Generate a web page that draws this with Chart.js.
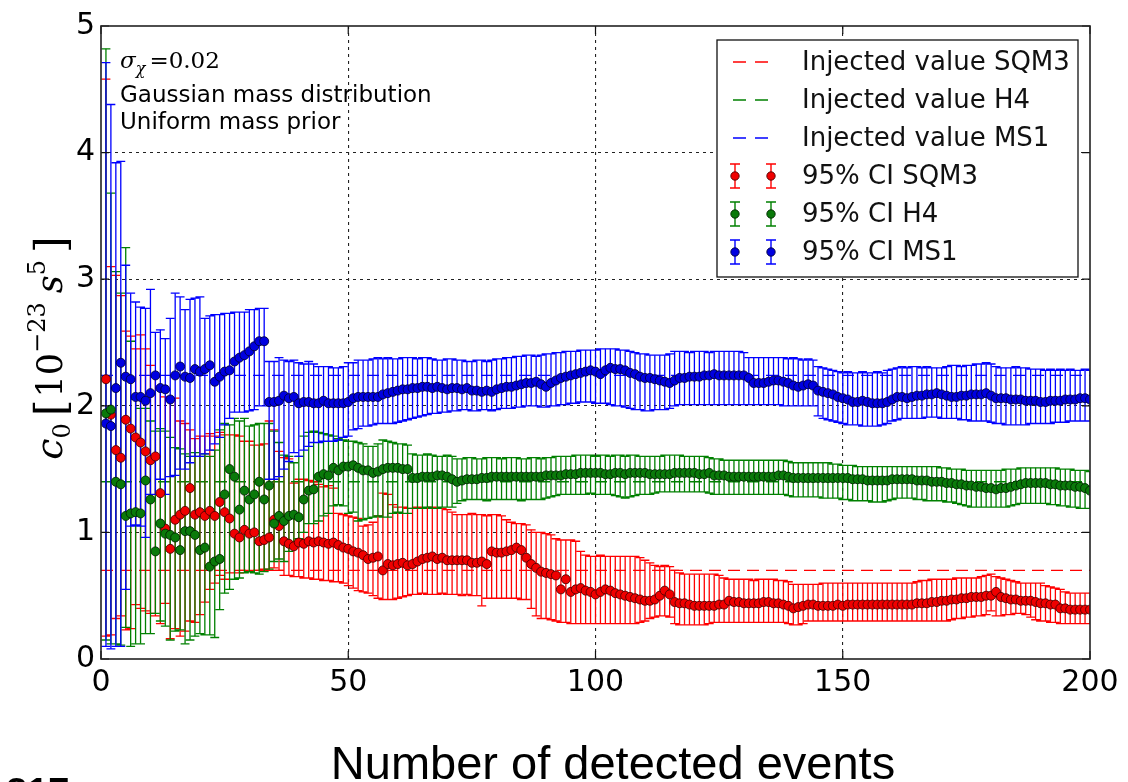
<!DOCTYPE html>
<html><head><meta charset="utf-8">
<script src="https://cdn.jsdelivr.net/npm/chart.js@4.4.1/dist/chart.umd.min.js"></script>
<style>html,body{margin:0;padding:0;background:#fff;}#wrap{width:1128px;height:782px;position:relative;}</style>
</head><body><div id="wrap"><canvas id="c" width="1128" height="782"></canvas></div>
<script>
// ---- data (x = number of detected events) ----
const events = Array.from({length: 200}, (_, i) => i + 1);
const xTicks = [0, 50, 100, 150, 200];
const yTicks = [0, 1, 2, 3, 4, 5];
const injectedSQM3 = 0.70, injectedH4 = 1.40, injectedMS1 = 2.24;

const ms1Mid = [
1.86,1.84,2.14,2.34,2.23,2.21,2.07,2.07,2.04,2.10,
2.24,2.14,2.13,2.05,2.24,2.31,2.23,2.22,2.29,2.27,
2.29,2.32,2.19,2.23,2.27,2.28,2.35,2.38,2.40,2.43,
2.47,2.51,2.51,2.03,2.03,2.04,2.08,2.06,2.07,2.02,
2.03,2.03,2.02,2.02,2.04,2.02,2.02,2.02,2.02,2.03,
2.06,2.07,2.07,2.07,2.07,2.07,2.09,2.10,2.11,2.12,
2.13,2.13,2.14,2.14,2.15,2.15,2.14,2.15,2.14,2.13,
2.14,2.14,2.13,2.14,2.12,2.12,2.11,2.12,2.11,2.13,
2.14,2.15,2.15,2.16,2.17,2.18,2.18,2.19,2.17,2.15,
2.18,2.20,2.22,2.23,2.24,2.25,2.26,2.27,2.28,2.27,
2.25,2.28,2.30,2.29,2.29,2.28,2.26,2.25,2.23,2.22,
2.22,2.21,2.20,2.19,2.18,2.20,2.22,2.22,2.23,2.23,
2.23,2.24,2.24,2.25,2.24,2.24,2.24,2.24,2.24,2.24,
2.22,2.18,2.18,2.18,2.19,2.20,2.20,2.19,2.18,2.16,
2.15,2.16,2.17,2.16,2.12,2.11,2.10,2.09,2.07,2.06,
2.05,2.03,2.03,2.04,2.03,2.02,2.02,2.02,2.03,2.05,
2.07,2.07,2.06,2.07,2.08,2.08,2.09,2.09,2.10,2.09,
2.08,2.07,2.07,2.08,2.08,2.09,2.09,2.09,2.10,2.08,
2.06,2.06,2.06,2.05,2.05,2.05,2.04,2.04,2.04,2.03,
2.03,2.04,2.04,2.04,2.05,2.05,2.05,2.06,2.06,2.05];
const ms1Hi = [
4.71,4.38,3.92,3.93,3.11,2.89,2.82,2.78,2.77,2.92,
2.58,2.60,2.53,2.69,2.89,2.86,2.76,2.84,2.85,2.86,
2.69,2.71,2.72,2.72,2.73,2.73,2.74,2.74,2.74,2.76,
2.76,2.77,2.77,2.35,2.35,2.38,2.36,2.35,2.36,2.34,
2.33,2.35,2.33,2.31,2.31,2.31,2.30,2.30,2.31,2.34,
2.34,2.36,2.36,2.36,2.37,2.38,2.37,2.38,2.37,2.37,
2.38,2.38,2.38,2.37,2.38,2.38,2.37,2.36,2.36,2.37,
2.37,2.36,2.36,2.35,2.35,2.36,2.36,2.35,2.36,2.37,
2.37,2.38,2.38,2.39,2.39,2.40,2.40,2.39,2.40,2.41,
2.41,2.42,2.42,2.43,2.43,2.43,2.44,2.44,2.44,2.44,
2.45,2.45,2.45,2.45,2.44,2.44,2.43,2.42,2.41,2.41,
2.40,2.40,2.40,2.40,2.41,2.43,2.43,2.43,2.42,2.43,
2.43,2.43,2.42,2.43,2.43,2.43,2.43,2.43,2.43,2.42,
2.38,2.38,2.38,2.38,2.38,2.38,2.38,2.38,2.37,2.38,
2.37,2.36,2.37,2.36,2.31,2.30,2.29,2.28,2.27,2.26,
2.27,2.26,2.26,2.27,2.26,2.26,2.27,2.26,2.28,2.29,
2.30,2.31,2.30,2.31,2.31,2.30,2.31,2.30,2.30,2.30,
2.31,2.32,2.32,2.31,2.32,2.32,2.33,2.33,2.34,2.33,
2.31,2.30,2.30,2.30,2.31,2.30,2.30,2.29,2.29,2.29,
2.28,2.29,2.28,2.29,2.28,2.29,2.28,2.28,2.29,2.28];
const ms1Lo = [
0.10,0.08,0.10,0.10,0.55,1.05,1.06,1.05,0.96,1.30,
1.30,1.42,1.30,1.44,1.45,1.50,1.50,1.55,1.60,1.60,
1.62,1.65,1.70,1.75,1.85,1.90,1.95,1.95,1.95,1.96,
1.97,2.00,2.00,1.42,1.42,1.44,1.50,1.56,1.63,1.60,
1.65,1.68,1.71,1.71,1.72,1.72,1.72,1.73,1.75,1.76,
1.81,1.82,1.84,1.84,1.85,1.86,1.86,1.86,1.86,1.87,
1.88,1.89,1.90,1.91,1.92,1.93,1.94,1.94,1.95,1.95,
1.96,1.96,1.97,1.97,1.96,1.96,1.97,1.97,1.96,1.97,
1.98,1.98,1.98,1.99,1.99,2.00,2.00,2.00,1.99,1.99,
2.00,2.00,2.01,2.01,2.02,2.02,2.03,2.03,2.03,2.02,
2.02,2.02,2.01,2.00,2.00,1.99,1.98,1.97,1.97,1.96,
1.96,1.97,1.97,1.97,1.98,2.00,2.01,2.01,2.01,2.01,
2.01,2.01,2.01,2.01,2.01,2.01,2.01,2.01,2.01,2.01,
2.01,2.01,2.01,2.01,2.01,2.01,2.01,2.00,2.00,2.00,
2.00,2.00,2.00,2.00,1.92,1.90,1.89,1.88,1.87,1.86,
1.85,1.85,1.85,1.84,1.84,1.84,1.84,1.85,1.86,1.88,
1.89,1.90,1.90,1.90,1.90,1.90,1.91,1.91,1.91,1.90,
1.90,1.90,1.90,1.89,1.89,1.88,1.88,1.88,1.88,1.87,
1.86,1.86,1.85,1.85,1.85,1.85,1.85,1.86,1.86,1.86,
1.86,1.86,1.87,1.87,1.87,1.88,1.88,1.88,1.88,1.88];

const h4Mid = [
1.94,1.97,1.40,1.38,1.13,1.15,1.16,1.15,1.41,1.26,
0.85,1.07,0.99,0.98,0.96,0.86,1.01,1.01,0.98,0.86,
0.88,0.73,0.77,0.79,1.30,1.50,1.44,1.18,1.33,1.26,
1.30,1.40,1.26,1.37,1.07,1.13,1.09,1.13,1.14,1.12,
1.26,1.33,1.34,1.44,1.46,1.45,1.51,1.49,1.52,1.52,
1.53,1.51,1.49,1.49,1.47,1.48,1.50,1.51,1.51,1.51,
1.50,1.50,1.43,1.43,1.44,1.44,1.44,1.45,1.45,1.44,
1.42,1.40,1.41,1.42,1.42,1.42,1.43,1.43,1.44,1.44,
1.44,1.44,1.44,1.44,1.44,1.44,1.44,1.44,1.44,1.45,
1.45,1.45,1.45,1.46,1.46,1.46,1.47,1.47,1.47,1.47,
1.47,1.46,1.46,1.47,1.47,1.46,1.47,1.47,1.47,1.47,
1.46,1.46,1.46,1.46,1.46,1.47,1.47,1.47,1.47,1.47,
1.46,1.46,1.47,1.45,1.45,1.45,1.44,1.44,1.44,1.44,
1.44,1.44,1.44,1.44,1.44,1.44,1.45,1.45,1.44,1.43,
1.43,1.43,1.43,1.43,1.43,1.43,1.43,1.43,1.43,1.43,
1.43,1.42,1.42,1.42,1.41,1.41,1.41,1.41,1.41,1.42,
1.42,1.42,1.42,1.42,1.41,1.41,1.41,1.40,1.40,1.40,
1.39,1.39,1.38,1.38,1.37,1.37,1.36,1.36,1.35,1.35,
1.34,1.35,1.35,1.36,1.37,1.38,1.39,1.39,1.39,1.39,
1.39,1.38,1.38,1.37,1.37,1.37,1.36,1.36,1.35,1.33];
const h4Hi = [
4.82,3.68,3.06,2.89,3.25,2.51,2.05,1.98,1.98,1.88,
1.80,1.82,1.80,1.75,1.67,1.66,1.62,1.60,1.63,1.60,
1.62,1.60,1.65,1.81,1.86,1.85,1.90,1.88,1.90,1.84,
1.85,1.86,1.86,1.86,1.80,1.71,1.61,1.60,1.55,1.60,
1.76,1.79,1.80,1.79,1.78,1.77,1.76,1.74,1.73,1.72,
1.72,1.71,1.70,1.68,1.68,1.70,1.73,1.72,1.71,1.70,
1.70,1.69,1.62,1.61,1.61,1.62,1.61,1.60,1.60,1.61,
1.60,1.58,1.58,1.59,1.59,1.58,1.58,1.59,1.59,1.59,
1.58,1.59,1.59,1.59,1.58,1.58,1.59,1.59,1.58,1.59,
1.59,1.60,1.60,1.60,1.60,1.61,1.61,1.61,1.61,1.60,
1.61,1.61,1.60,1.61,1.61,1.60,1.61,1.61,1.60,1.60,
1.60,1.60,1.60,1.61,1.61,1.61,1.61,1.60,1.60,1.60,
1.60,1.60,1.59,1.58,1.58,1.57,1.57,1.57,1.57,1.57,
1.57,1.57,1.57,1.57,1.57,1.57,1.57,1.57,1.56,1.55,
1.55,1.55,1.55,1.55,1.55,1.55,1.55,1.54,1.54,1.53,
1.53,1.53,1.52,1.52,1.52,1.52,1.52,1.52,1.52,1.52,
1.52,1.52,1.52,1.52,1.52,1.52,1.52,1.52,1.52,1.51,
1.51,1.50,1.50,1.50,1.49,1.49,1.49,1.49,1.49,1.49,
1.49,1.49,1.50,1.50,1.50,1.51,1.51,1.51,1.51,1.51,
1.51,1.51,1.51,1.50,1.50,1.50,1.49,1.49,1.49,1.48];
const h4Lo = [
0.15,0.12,0.12,0.11,0.25,0.10,0.12,0.12,0.20,0.20,
0.36,0.30,0.26,0.15,0.22,0.23,0.12,0.15,0.18,0.20,
0.19,0.19,0.17,0.39,0.52,0.55,0.63,0.64,0.68,0.69,
0.68,0.67,0.69,0.71,0.77,0.79,0.77,0.85,0.92,0.95,
1.00,1.07,1.07,1.09,1.13,1.15,1.21,1.22,1.21,1.15,
1.16,1.09,1.10,1.11,1.12,1.13,1.12,1.12,1.15,1.16,
1.15,1.15,1.19,1.19,1.19,1.20,1.19,1.19,1.20,1.20,
1.20,1.23,1.25,1.26,1.26,1.26,1.26,1.25,1.26,1.26,
1.26,1.26,1.26,1.26,1.25,1.26,1.26,1.26,1.26,1.27,
1.28,1.29,1.30,1.30,1.30,1.30,1.30,1.30,1.31,1.30,
1.30,1.30,1.30,1.29,1.28,1.27,1.28,1.29,1.30,1.30,
1.30,1.31,1.32,1.32,1.32,1.32,1.32,1.32,1.32,1.32,
1.32,1.32,1.31,1.30,1.30,1.30,1.30,1.30,1.30,1.30,
1.30,1.30,1.30,1.30,1.30,1.30,1.30,1.30,1.29,1.28,
1.28,1.28,1.28,1.28,1.28,1.27,1.27,1.27,1.27,1.26,
1.26,1.25,1.25,1.25,1.25,1.24,1.24,1.24,1.25,1.26,
1.27,1.27,1.27,1.27,1.26,1.26,1.25,1.25,1.25,1.25,
1.24,1.24,1.23,1.22,1.21,1.20,1.20,1.20,1.20,1.20,
1.20,1.20,1.20,1.21,1.22,1.23,1.23,1.23,1.23,1.23,
1.23,1.22,1.22,1.21,1.21,1.20,1.20,1.19,1.19,1.19];

const sqm3Mid = [
2.21,1.93,1.65,1.59,1.89,1.82,1.75,1.71,1.64,1.57,
1.60,1.31,1.03,0.87,1.10,1.14,1.17,1.35,1.14,1.16,
1.13,1.17,1.13,1.24,1.16,1.11,0.99,0.96,1.02,0.99,
1.00,0.93,0.94,0.96,1.10,1.05,0.93,0.91,0.89,0.92,
0.91,0.93,0.92,0.93,0.92,0.91,0.92,0.90,0.88,0.87,
0.85,0.84,0.82,0.79,0.80,0.81,0.70,0.75,0.74,0.75,
0.76,0.74,0.75,0.77,0.79,0.80,0.81,0.79,0.80,0.78,
0.78,0.78,0.78,0.78,0.76,0.76,0.77,0.75,0.85,0.84,
0.84,0.85,0.86,0.88,0.86,0.80,0.75,0.72,0.69,0.68,
0.67,0.66,0.55,0.63,0.53,0.55,0.56,0.54,0.53,0.51,
0.53,0.55,0.54,0.52,0.51,0.50,0.49,0.48,0.47,0.46,
0.46,0.47,0.50,0.54,0.51,0.45,0.44,0.44,0.43,0.42,
0.42,0.42,0.42,0.42,0.43,0.43,0.46,0.45,0.45,0.44,
0.44,0.44,0.44,0.45,0.45,0.44,0.44,0.43,0.42,0.40,
0.41,0.42,0.43,0.43,0.42,0.42,0.42,0.42,0.43,0.42,
0.43,0.43,0.43,0.43,0.43,0.43,0.43,0.43,0.43,0.43,
0.43,0.43,0.43,0.43,0.44,0.44,0.44,0.45,0.45,0.46,
0.46,0.47,0.47,0.48,0.48,0.49,0.49,0.49,0.50,0.50,
0.53,0.49,0.48,0.47,0.47,0.46,0.46,0.46,0.45,0.44,
0.44,0.43,0.43,0.40,0.40,0.39,0.39,0.39,0.39,0.39];
const sqm3Hi = [
4.58,3.10,3.03,2.87,2.59,2.55,2.45,2.56,2.45,2.32,
2.23,2.15,2.07,2.06,2.06,1.88,1.86,1.81,1.74,1.76,
1.76,1.78,1.76,1.79,1.77,1.77,1.77,1.76,1.72,1.72,
1.69,1.69,1.70,1.88,1.81,1.64,1.59,1.58,1.39,1.42,
1.42,1.41,1.40,1.38,1.36,1.37,1.35,1.15,1.14,1.13,
1.12,1.11,1.05,1.06,1.08,1.13,1.31,1.30,1.22,1.20,
1.20,1.19,1.19,1.20,1.19,1.19,1.20,1.19,1.19,1.18,
1.16,1.14,1.14,1.14,1.15,1.14,1.14,1.13,1.14,1.14,
1.13,1.10,1.08,1.07,1.07,1.06,1.02,1.00,1.00,0.99,
0.98,0.95,0.94,0.94,0.94,0.93,0.85,0.82,0.81,0.81,
0.82,0.81,0.81,0.81,0.81,0.81,0.81,0.81,0.80,0.78,
0.76,0.74,0.73,0.74,0.73,0.70,0.68,0.67,0.67,0.67,
0.67,0.67,0.67,0.67,0.66,0.64,0.63,0.63,0.63,0.63,
0.63,0.62,0.63,0.63,0.63,0.63,0.62,0.62,0.61,0.59,
0.59,0.59,0.59,0.59,0.59,0.60,0.60,0.60,0.60,0.60,
0.60,0.60,0.60,0.60,0.60,0.60,0.60,0.60,0.60,0.60,
0.60,0.60,0.60,0.60,0.61,0.62,0.62,0.63,0.63,0.63,
0.63,0.63,0.64,0.64,0.64,0.64,0.64,0.65,0.66,0.67,
0.65,0.64,0.63,0.62,0.61,0.60,0.60,0.60,0.60,0.60,
0.58,0.57,0.56,0.55,0.53,0.52,0.52,0.52,0.52,0.52];
const sqm3Lo = [
0.18,0.19,0.32,0.34,0.23,0.24,0.43,0.40,0.38,0.36,
0.34,0.28,0.44,0.16,0.24,0.18,0.22,0.30,0.29,0.35,
0.45,0.55,0.60,0.66,0.63,0.68,0.68,0.68,0.70,0.69,
0.70,0.70,0.71,0.70,0.72,0.70,0.66,0.66,0.65,0.65,
0.64,0.64,0.63,0.63,0.62,0.62,0.61,0.61,0.60,0.58,
0.56,0.54,0.53,0.52,0.50,0.48,0.47,0.47,0.47,0.48,
0.49,0.50,0.51,0.51,0.52,0.51,0.51,0.51,0.52,0.51,
0.51,0.51,0.50,0.51,0.50,0.50,0.42,0.48,0.48,0.48,
0.48,0.48,0.48,0.48,0.47,0.47,0.40,0.34,0.32,0.32,
0.31,0.30,0.29,0.29,0.28,0.28,0.28,0.28,0.28,0.28,
0.28,0.28,0.28,0.28,0.28,0.28,0.28,0.28,0.29,0.30,
0.32,0.33,0.34,0.34,0.33,0.28,0.27,0.27,0.27,0.27,
0.27,0.27,0.28,0.29,0.29,0.29,0.29,0.29,0.29,0.29,
0.29,0.29,0.29,0.29,0.29,0.29,0.29,0.29,0.28,0.27,
0.27,0.28,0.30,0.30,0.30,0.30,0.30,0.30,0.30,0.30,
0.30,0.30,0.30,0.30,0.30,0.30,0.30,0.30,0.30,0.30,
0.30,0.30,0.30,0.30,0.30,0.30,0.30,0.30,0.30,0.30,
0.30,0.31,0.32,0.32,0.33,0.33,0.34,0.34,0.35,0.38,
0.34,0.34,0.35,0.35,0.36,0.36,0.35,0.33,0.31,0.30,
0.30,0.29,0.29,0.28,0.28,0.28,0.28,0.28,0.28,0.28];

// ---- sanity ----
[ms1Mid,ms1Hi,ms1Lo,h4Mid,h4Hi,h4Lo,sqm3Mid,sqm3Hi,sqm3Lo].forEach((a,k)=>{ if(a.length!==200) throw new Error('array '+k+' has length '+a.length); });

// ---- styles ----
const RED = '#ff0000', GREEN = '#008000', BLUE = '#0000ff';
const CAP = 0.9; // cap half width in event units

function bars(lo, hi){ const d=[]; events.forEach((x,i)=>{ d.push({x:x,y:lo[i]},{x:x,y:hi[i]},{x:x,y:null}); }); return d; }
function caps(lo, hi){ const d=[]; events.forEach((x,i)=>{ d.push({x:x-CAP,y:hi[i]},{x:x+CAP,y:hi[i]},{x:x,y:null},{x:x-CAP,y:lo[i]},{x:x+CAP,y:lo[i]},{x:x,y:null}); }); return d; }
function pts(mid){ return events.map((x,i)=>({x:x,y:mid[i]})); }
function hline(v){ return [{x:0,y:v},{x:200,y:v}]; }

function segDs(data, color, order){ return {type:'line', data, borderColor:color, borderWidth:1.3, pointRadius:0, spanGaps:false, tension:0, order}; }
function injDs(v, color){ return {type:'line', data:hline(v), borderColor:color, borderWidth:1.4, borderDash:[12,7], pointRadius:0, order:20}; }
function ptDs(mid, face, edge, order){ return {type:'scatter', data:pts(mid), pointRadius:4.5, pointBackgroundColor:face, pointBorderColor:edge, pointBorderWidth:0.9, order}; }

const datasets = [
  injDs(injectedSQM3, RED), injDs(injectedH4, GREEN), injDs(injectedMS1, BLUE),
  segDs(bars(sqm3Lo,sqm3Hi), RED, 15), segDs(caps(sqm3Lo,sqm3Hi), RED, 15),
  segDs(bars(h4Lo,h4Hi), GREEN, 14), segDs(caps(h4Lo,h4Hi), GREEN, 14),
  segDs(bars(ms1Lo,ms1Hi), BLUE, 13), segDs(caps(ms1Lo,ms1Hi), BLUE, 13),
  ptDs(sqm3Mid, '#f00000', '#500000', 3),
  ptDs(h4Mid, '#0a7a0a', '#002800', 2),
  ptDs(ms1Mid, '#0000e0', '#000040', 1)
];

// ---- drawing helpers ----
function rich(ctx, parts){
  let w=0; parts.forEach(p=>{ctx.font=p[1]; w+=ctx.measureText(p[0]).width + (p[3]||0);}); return w;
}
function drawRich(ctx, parts, x, y){
  let cx=x; parts.forEach(p=>{ctx.font=p[1]; ctx.fillText(p[0], cx, y+(p[2]||0)); cx+=ctx.measureText(p[0]).width+(p[3]||0);});
}

const decor = {
  id:'decor',
  afterDraw(chart){
    const {ctx, chartArea:a, scales:{x, y}} = chart;
    ctx.save();
    // inward ticks
    ctx.strokeStyle='#111'; ctx.lineWidth=1.2; ctx.setLineDash([]);
    xTicks.forEach(v=>{ const px=x.getPixelForValue(v); ctx.beginPath(); ctx.moveTo(px,a.bottom); ctx.lineTo(px,a.bottom-8); ctx.moveTo(px,a.top); ctx.lineTo(px,a.top+8); ctx.stroke(); });
    yTicks.forEach(v=>{ const py=y.getPixelForValue(v); ctx.beginPath(); ctx.moveTo(a.left,py); ctx.lineTo(a.left+8,py); ctx.moveTo(a.right,py); ctx.lineTo(a.right-8,py); ctx.stroke(); });
    // frame
    ctx.lineWidth=1.6; ctx.strokeStyle='#222';
    ctx.strokeRect(a.left, a.top, a.right-a.left, a.bottom-a.top);

    ctx.fillStyle='#000'; ctx.textBaseline='alphabetic'; ctx.textAlign='left';
    // annotation
    drawRich(ctx, [['σ','italic 23px "DejaVu Serif"',0],['χ','italic 16px "DejaVu Serif"',6,4],['=0.02','23px "DejaVu Serif"',0]], 120, 68);
    ctx.font='23px "DejaVu Sans"';
    ctx.fillText('Gaussian mass distribution', 120, 102);
    ctx.fillText('Uniform mass prior', 120, 129);

    // legend
    const L={x:717,y:40,w:361,h:237};
    ctx.fillStyle='#fff'; ctx.fillRect(L.x,L.y,L.w,L.h);
    ctx.strokeStyle='#111'; ctx.lineWidth=1.3; ctx.strokeRect(L.x,L.y,L.w,L.h);
    const rows=[['Injected value SQM3',RED,'d'],['Injected value H4',GREEN,'d'],['Injected value MS1',BLUE,'d'],
      ['95% CI SQM3',RED,'e','#f00000','#500000'],['95% CI H4',GREEN,'e','#0a7a0a','#002800'],['95% CI MS1',BLUE,'e','#0000e0','#000040']];
    rows.forEach((r,i)=>{
      const cy=62+i*38;
      ctx.strokeStyle=r[1]; ctx.lineWidth=1.4;
      if(r[2]==='d'){ ctx.beginPath(); ctx.moveTo(733,cy); ctx.lineTo(746,cy); ctx.moveTo(755,cy); ctx.lineTo(768,cy); ctx.stroke(); }
      else { [735,771].forEach(mx=>{ ctx.beginPath(); ctx.moveTo(mx,cy-12); ctx.lineTo(mx,cy+12); ctx.moveTo(mx-5,cy-12); ctx.lineTo(mx+5,cy-12); ctx.moveTo(mx-5,cy+12); ctx.lineTo(mx+5,cy+12); ctx.stroke();
        ctx.beginPath(); ctx.arc(mx,cy,4.2,0,Math.PI*2); ctx.fillStyle=r[3]; ctx.fill(); ctx.lineWidth=0.9; ctx.strokeStyle=r[4]; ctx.stroke(); ctx.lineWidth=1.4; ctx.strokeStyle=r[1]; }); }
      ctx.fillStyle='#111'; ctx.font='26px "DejaVu Sans"'; ctx.textBaseline='middle';
      ctx.fillText(r[0], 802, cy+1);
      ctx.textBaseline='alphabetic';
    });

    // y-axis title (rotated)
    ctx.save();
    ctx.translate(62, 348); ctx.rotate(-Math.PI/2);
    const yl=[['c','italic 38px "DejaVu Serif"',0],['0','24px "DejaVu Serif"',8,7],['[','43px "DejaVu Serif"',3,2],['10','35px "DejaVu Serif"',0],['−23','24px "DejaVu Serif"',-17,9],
      ['s','italic 35px "DejaVu Serif"',0],['5','24px "DejaVu Serif"',-17,7],[']','43px "DejaVu Serif"',3]];
    const w=rich(ctx, yl);
    ctx.fillStyle='#000';
    drawRich(ctx, yl, -w/2, 0);
    ctx.restore();

    // x-axis title
    ctx.fillStyle='#000'; ctx.textAlign='center'; ctx.textBaseline='alphabetic';
    ctx.font='47px "Liberation Sans"';
    ctx.fillText('Number of detected events', 613, 779);
    ctx.textAlign='left';
    ctx.font='bold 38px "Liberation Sans"';
    ctx.fillText('817', 6, 805);
    ctx.restore();
  }
};

new Chart(document.getElementById('c'), {
  type:'scatter',
  data:{datasets},
  options:{
    responsive:false, animation:false, events:[],
    layout:{padding:{left:0,right:38,top:26,bottom:0}},
    plugins:{legend:{display:false}, tooltip:{enabled:false}},
    scales:{
      x:{type:'linear', min:0, max:200, z:1,
         afterFit(s){ s.height=123; },
         ticks:{stepSize:50, color:'#000', font:{family:'DejaVu Sans', size:30}, padding:6, maxRotation:0},
         grid:{color:(c)=> (c.tick && (c.tick.value===0||c.tick.value===200)) ? 'rgba(0,0,0,0)' : '#222', lineWidth:1.1, drawTicks:false},
         border:{display:false, dash:[3,4]}},
      y:{type:'linear', min:0, max:5, z:1,
         afterFit(s){ s.width=101; },
         ticks:{stepSize:1, color:'#000', font:{family:'DejaVu Sans', size:30}, padding:6},
         grid:{color:(c)=> (c.tick && (c.tick.value===0||c.tick.value===5)) ? 'rgba(0,0,0,0)' : '#222', lineWidth:1.1, drawTicks:false},
         border:{display:false, dash:[3,4]}}
    }
  },
  plugins:[decor]
});
</script>
</body></html>
